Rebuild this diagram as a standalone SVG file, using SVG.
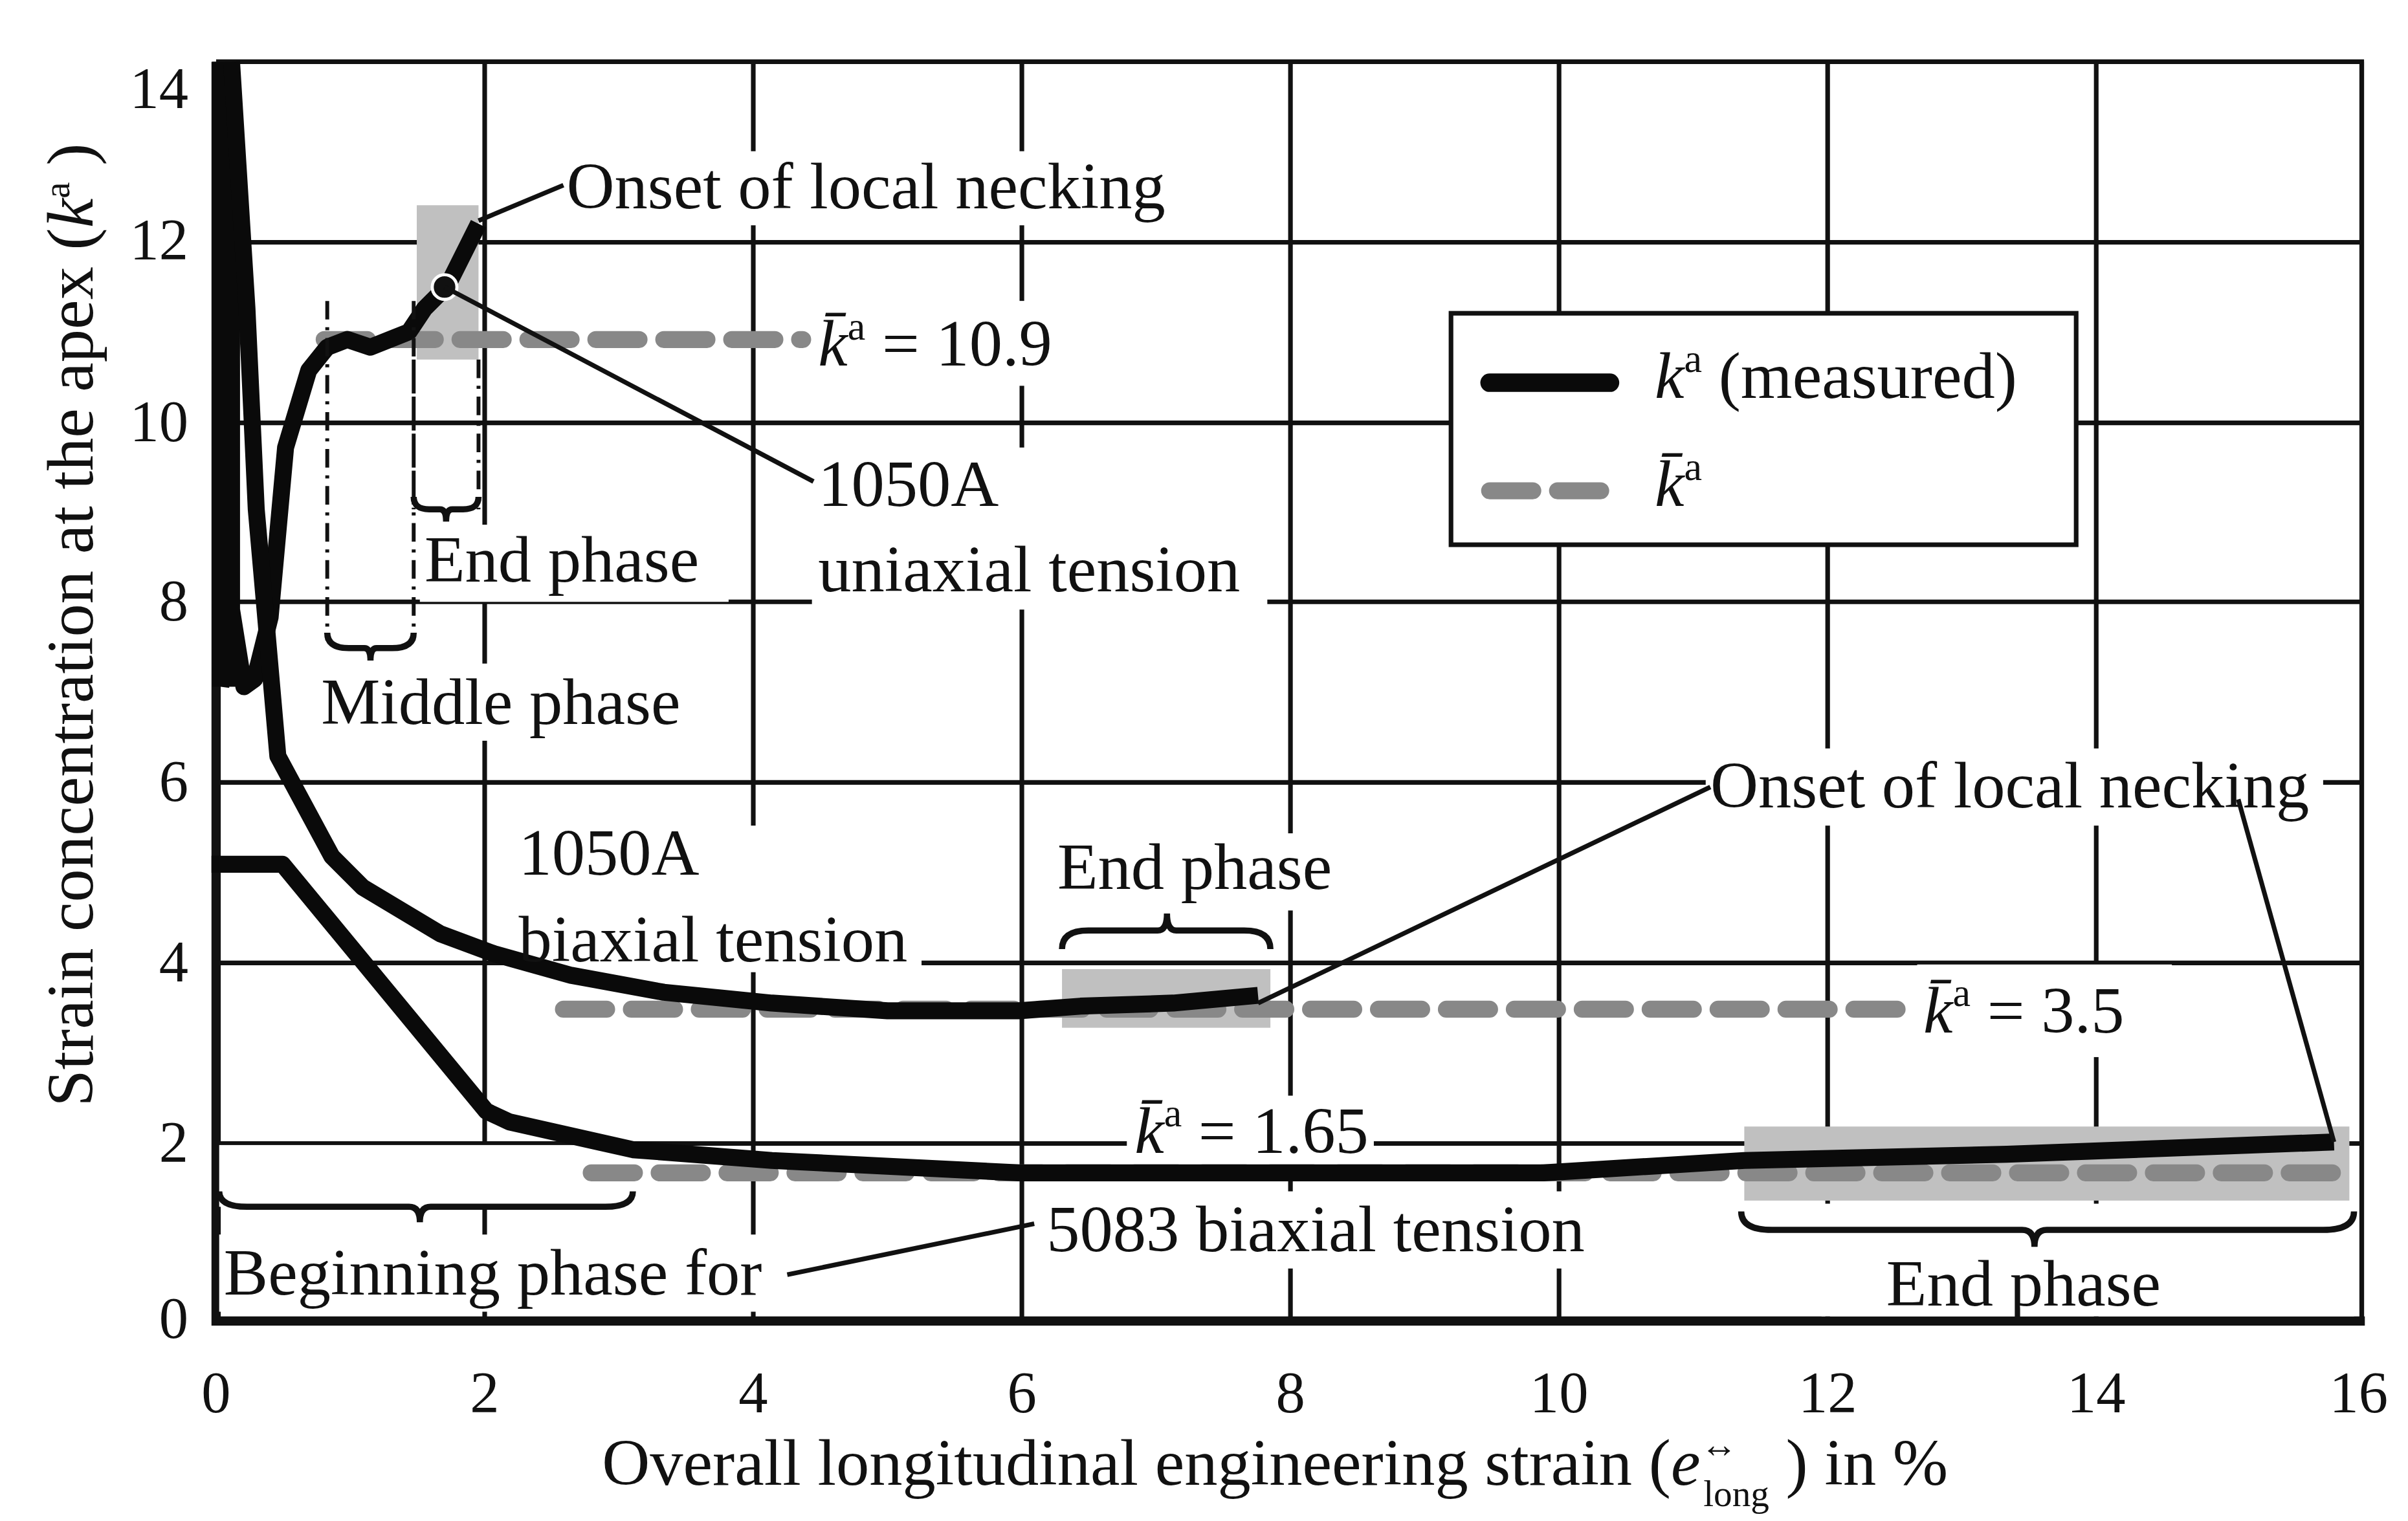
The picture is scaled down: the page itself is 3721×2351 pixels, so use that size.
<svg xmlns="http://www.w3.org/2000/svg" width="3721" height="2351" viewBox="0 0 3721 2351">
<style>
.t{font-family:"Liberation Serif","Times New Roman",serif;font-size:43px;fill:#111}
.tk{font-family:"Liberation Serif","Times New Roman",serif;font-size:38px;fill:#111}
.g{stroke:#111;stroke-width:3;fill:none}
.c{stroke:#0a0a0a;stroke-width:11;fill:none;stroke-linejoin:round}
.d{stroke:#888;stroke-width:11;fill:none;stroke-dasharray:28 16;stroke-linecap:round}
.dd{stroke:#111;stroke-width:2.5;fill:none;stroke-dasharray:12 5 2 5}
.l{stroke:#111;stroke-width:3;fill:none}
.b{stroke:#111;stroke-width:4;fill:none}
.w{fill:#fff}
.gb{fill:#c0c0c0}
</style>
<rect width="3721" height="2351" fill="#fff"/>
<g transform="scale(2.3853)">
<g id="grid">
<path class="g" d="M140,40H1530V855M140,157H1530M140,274H1530M140,390H1530M140,507H1530M140,624H1530M140,741H1530"/>
<path class="g" d="M314,40V855M488,40V855M662,40V855M836,40V855M1010,40V855M1184,40V855M1358,40V855M1530,40V855"/>
<path stroke="#111" stroke-width="6" d="M140,40V858M137,856H1532"/>
</g>
<g id="label-backgrounds">
<rect class="w" x="362" y="98" width="402" height="48"/>
<rect class="w" x="525" y="195" width="225" height="55"/>
<rect class="w" x="526" y="290" width="295" height="105"/>
<rect class="w" x="272" y="340" width="200" height="50"/>
<rect class="w" x="205" y="430" width="255" height="50"/>
<rect class="w" x="332" y="535" width="265" height="95"/>
<rect class="w" x="682" y="540" width="195" height="50"/>
<rect class="w" x="1105" y="485" width="400" height="50"/>
<rect class="w" x="1242" y="625" width="165" height="60"/>
<rect class="w" x="730" y="710" width="160" height="45"/>
<rect class="w" x="674" y="772" width="355" height="50"/>
<rect class="w" x="142" y="800" width="370" height="50"/>
<rect class="w" x="1180" y="808" width="345" height="45"/>
<rect class="w" x="142" y="742" width="270" height="40"/>
<rect class="w" x="1126" y="780" width="400" height="30"/>
</g>
<g id="highlights">
<rect class="gb" x="270" y="133" width="40" height="100"/>
<rect class="gb" x="688" y="628" width="135" height="38"/>
<rect class="gb" x="1130" y="730" width="392" height="48"/>
</g>
<g id="mean-lines">
<path class="d" d="M210,220H520"/>
<path class="d" d="M365,654H1240"/>
<path class="d" d="M383,760H1520"/>
</g>
<g id="curves">
<path class="c" d="M143,40V445M150,40V445M143,445L150,395L158,445L165,440L175,400L185,290L200,240L212,225L225,220L240,225L265,215L275,200L290,185L300,165L310,145"/>
<path class="c" d="M150,40L160,200L166,330L180,490L215,555L235,575L285,605L320,618L370,632L430,643L500,650L575,655L660,655L700,652L760,650L815,645"/>
<path class="c" d="M137,560L183,560L315,720L330,727L410,745L500,752L660,760L1000,760L1130,752L1300,748L1512,740"/>
</g>
<g id="phase-markers">
<path class="dd" d="M212,195V415M268,195V415M268,233V330M310,233V330"/>
<path class="b" d="M212,410Q212,420 226,420H236Q240,420 240,428Q240,420 244,420H254Q268,420 268,410"/>
<path class="b" d="M268,322Q268,330 278,330H285Q289,330 289,338Q289,330 293,330H300Q310,330 310,322"/>
<path class="b" d="M688,615Q688,603 705,603H750Q756,603 756,592Q756,603 762,603H806Q823,603 823,615"/>
<path class="b" d="M142,772Q142,782 160,782H265Q272,782 272,792Q272,782 279,782H392Q410,782 410,772"/>
<path class="b" d="M1128,785Q1128,797 1148,797H1310Q1318,797 1318,808Q1318,797 1326,797H1505Q1525,797 1525,785"/>
</g>
<g id="leaders">
<path class="l" d="M310,143L365,120"/>
<circle cx="288" cy="186" r="8" fill="#111" stroke="#fff" stroke-width="2"/>
<path class="l" d="M288,186L527,312"/>
<path class="l" d="M815,650L1108,510"/>
<path class="l" d="M1512,740L1450,518"/>
<path class="l" d="M510,826L670,793"/>
</g>
<g id="texts">
<text class="t" x="367" y="135">Onset of local necking</text>
<text class="t" x="530" y="237"><tspan font-style="italic">k̄</tspan><tspan font-size="26" dy="-17">a</tspan><tspan dy="17">  = 10.9</tspan></text>
<text class="t" x="530" y="328">1050A</text>
<text class="t" x="530" y="383">uniaxial tension</text>
<text class="t" x="275" y="377">End phase</text>
<text class="t" x="208" y="469">Middle phase</text>
<text class="t" x="336" y="567">1050A</text>
<text class="t" x="336" y="623">biaxial tension</text>
<text class="t" x="685" y="576">End phase</text>
<text class="t" x="1108" y="523">Onset of local necking</text>
<text class="t" x="1246" y="669"><tspan font-style="italic">k̄</tspan><tspan font-size="26" dy="-17">a</tspan><tspan dy="17">  = 3.5</tspan></text>
<text class="t" x="735" y="747"><tspan font-style="italic">k̄</tspan><tspan font-size="26" dy="-17">a</tspan><tspan dy="17"> = 1.65</tspan></text>
<text class="t" x="678" y="811">5083 biaxial tension</text>
<text class="t" x="145" y="839">Beginning phase for</text>
<text class="t" x="1222" y="846">End phase</text>
</g>
<g id="legend">
<rect x="940" y="203" width="405" height="150" fill="#fff" stroke="#111" stroke-width="3"/>
<path stroke="#0a0a0a" stroke-width="12" stroke-linecap="round" d="M965,248H1043"/>
<path class="d" d="M965,318H1043"/>
<text class="t" x="1072" y="258"><tspan font-style="italic">k</tspan><tspan font-size="26" dy="-17">a</tspan><tspan dy="17">  (measured)</tspan></text>
<text class="t" x="1072" y="328"><tspan font-style="italic">k̄</tspan><tspan font-size="26" dy="-17">a</tspan></text>
</g>
<g id="axes-labels">
<g class="tk" text-anchor="end">
<text x="122" y="70">14</text><text x="122" y="168">12</text><text x="122" y="286">10</text><text x="122" y="402">8</text><text x="122" y="519">6</text><text x="122" y="636">4</text><text x="122" y="753">2</text><text x="122" y="867">0</text>
</g>
<g class="tk" text-anchor="middle">
<text x="140" y="915">0</text><text x="314" y="915">2</text><text x="488" y="915">4</text><text x="662" y="915">6</text><text x="836" y="915">8</text><text x="1010" y="915">10</text><text x="1184" y="915">12</text><text x="1358" y="915">14</text><text x="1528" y="915">16</text>
</g>
<text class="t" transform="translate(60,405) rotate(-90)" text-anchor="middle" font-size="38">Strain concentration at the apex (<tspan font-style="italic">k</tspan><tspan font-size="24" dy="-15">a</tspan><tspan dy="15"> )</tspan></text>
<text class="t" x="390" y="962" font-size="41">Overall longitudinal engineering strain (<tspan font-style="italic">e</tspan><tspan font-size="24" dy="-18">↔</tspan><tspan font-size="24" dx="-22" dy="32">long</tspan><tspan dy="-14">  ) in %</tspan></text>
</g>
</g>
</svg>
